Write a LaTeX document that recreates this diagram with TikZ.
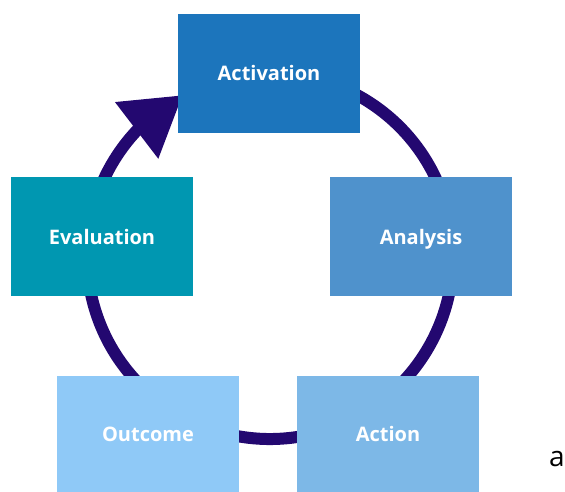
\documentclass[tikz,border=0pt]{standalone}
\usepackage{fontspec}
\setmainfont{Open Sans}
\usetikzlibrary{arrows.meta}
\usetikzlibrary{bending}

\definecolor{ringcol}{HTML}{230870}
\definecolor{activationcol}{HTML}{1C75BC}
\definecolor{analysiscol}{HTML}{4F92CC}
\definecolor{actioncol}{HTML}{7DB8E7}
\definecolor{outcomecol}{HTML}{8FC9F7}
\definecolor{evaluationcol}{HTML}{0097B1}

\tikzset{
  stage/.style={minimum width=182pt,minimum height=119pt,inner sep=0pt,
    text height=14.5pt,text depth=0pt,
    text=white,font=\fontsize{20}{24}\selectfont\bfseries},
  ring/.style={draw=ringcol,line width=12pt}
}

\begin{document}
\begin{tikzpicture}[x=1pt,y=1pt]
\useasboundingbox (0,0) rectangle (565,492);

\coordinate (c) at (270,236);
\draw [ring,-{Triangle[length=58pt,width=68pt,flex]}]
  (c) ++(105:183) arc[start angle=105,end angle=-241.5,radius=183];

\node [stage,fill=activationcol] (activation) at (269,418.5) {Activation};
\node [stage,fill=analysiscol] (analysis) at (421,255) {Analysis};
\node [stage,fill=actioncol,minimum height=116pt] (action) at (388,58) {Action};
\node [stage,fill=outcomecol,minimum height=116pt] (outcome) at (148,58) {Outcome};
\node [stage,fill=evaluationcol] (evaluation) at (102,255) {Evaluation};

\node [font=\fontsize{28}{32}\selectfont] (sublabel) at (557,33) {a};
\end{tikzpicture}
\end{document}
